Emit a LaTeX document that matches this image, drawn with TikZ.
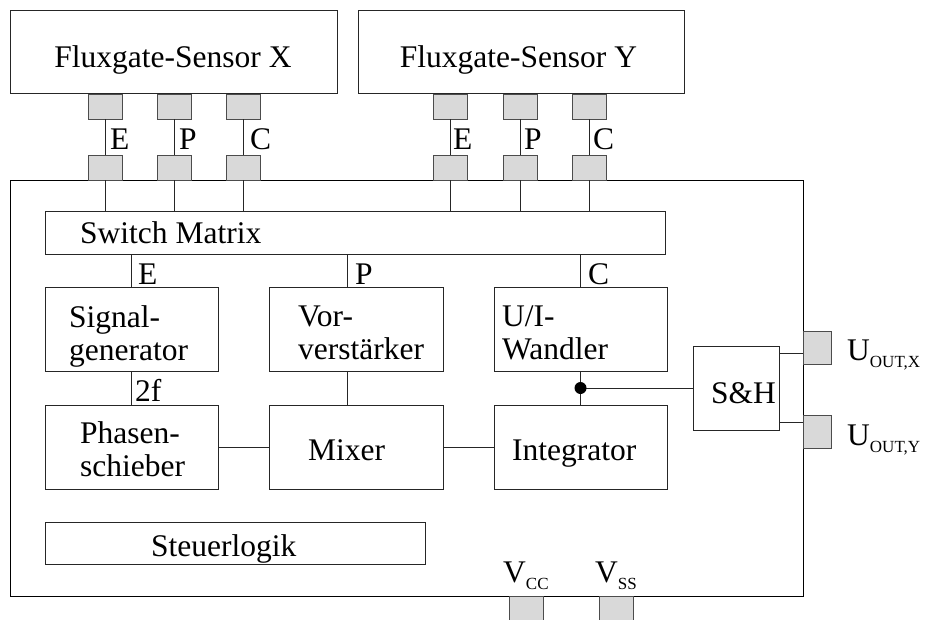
\documentclass[tikz,border=0pt]{standalone}
\usepackage{fontspec}
\setmainfont{Liberation Serif}
\newcommand{\subtxt}[1]{\raisebox{-7pt}{\fontsize{17}{17}\selectfont #1}}
\begin{document}
\begin{tikzpicture}[x=1pt,y=-1pt,
  box/.style={draw=black!85, line width=0.9pt, rectangle, inner sep=0pt},
  pad/.style={draw=black!70, fill=black!15, line width=0.9pt, rectangle, inner sep=0pt},
  txt/.style={inner sep=0pt, font=\fontsize{31.5}{33}\selectfont},
  wire/.style={line width=0.9pt, draw=black!85}]
\useasboundingbox (0,0) rectangle (927,619);

% main boxes
\node[box, minimum width=327, minimum height=83] (sx) at (173.5,51.5) {};
\node[box, minimum width=326, minimum height=83] (sy) at (521,51.5) {};
\node[box, draw=black, minimum width=793, minimum height=416] (main) at (406.5,388) {};
\node[box, minimum width=620, minimum height=43] (sm) at (355,232.5) {};
\node[box, minimum width=173, minimum height=84] (sg) at (131.5,329) {};
\node[box, minimum width=174, minimum height=84] (vv) at (356,329) {};
\node[box, minimum width=173, minimum height=84] (ui) at (580.5,329) {};
\node[box, minimum width=173, minimum height=84] (ps) at (131.5,447) {};
\node[box, minimum width=174, minimum height=84] (mx) at (356,447) {};
\node[box, minimum width=173, minimum height=84] (ig) at (580.5,447) {};
\node[box, minimum width=86, minimum height=84] (sh) at (736,388) {};
\node[box, minimum width=380, minimum height=42] (sl) at (235,543) {};

% pads sensor X
\node[pad, minimum width=34, minimum height=25] (xe1) at (105,106.5) {};
\node[pad, minimum width=34, minimum height=25] (xp1) at (174,106.5) {};
\node[pad, minimum width=34, minimum height=25] (xc1) at (243.5,106.5) {};
\node[pad, minimum width=34, minimum height=25] (xe2) at (105,167.5) {};
\node[pad, minimum width=34, minimum height=25] (xp2) at (174,167.5) {};
\node[pad, minimum width=34, minimum height=25] (xc2) at (243.5,167.5) {};
% pads sensor Y
\node[pad, minimum width=34, minimum height=25] (ye1) at (450.5,106.5) {};
\node[pad, minimum width=34, minimum height=25] (yp1) at (520,106.5) {};
\node[pad, minimum width=34, minimum height=25] (yc1) at (589.5,106.5) {};
\node[pad, minimum width=34, minimum height=25] (ye2) at (450.5,167.5) {};
\node[pad, minimum width=34, minimum height=25] (yp2) at (520,167.5) {};
\node[pad, minimum width=34, minimum height=25] (yc2) at (589.5,167.5) {};
% output pads
\node[pad, minimum width=28, minimum height=33] (pox) at (817,347.5) {};
\node[pad, minimum width=28, minimum height=33] (poy) at (817,431.5) {};
\node[pad, minimum width=34, minimum height=34] (pvc) at (526,613) {};
\node[pad, minimum width=34, minimum height=34] (pvs) at (616,613) {};

% wires sensor pads
\foreach \a/\b in {xe1/xe2,xp1/xp2,xc1/xc2,ye1/ye2,yp1/yp2,yc1/yc2}{
  \draw[wire] (\a.south) -- (\b.north);
  \draw[wire] (\b.south) -- (\b.south |- sm.north);
}
% switch matrix to blocks
\coordinate (pv) at ([xshift=78.5pt]vv.north west);
\draw[wire] (sg.north) -- (sg.north |- sm.south);
\draw[wire] (pv) -- (pv |- sm.south);
\draw[wire] (ui.north) -- (ui.north |- sm.south);
\draw[wire] (sg.south) -- (ps.north);
\draw[wire] (vv.south -| pv) -- (mx.north -| pv);
\draw[wire] (ps.east) -- (mx.west);
\draw[wire] (mx.east) -- (ig.west);
\draw[wire] (ui.south) -- (ig.north);
\coordinate (dt) at (ui.south |- sh.west);
\draw[wire] (dt) -- (sh.west);
\fill (dt) circle (6);
\draw[wire] ([yshift=-8pt]sh.north east) coordinate (a1) -- (a1 -| pox.west);
\draw[wire] ([yshift=8pt]sh.south east) coordinate (a2) -- (a2 -| poy.west);

% texts
\node[txt, anchor=base] (tsx) at (173,67) {Fluxgate-Sensor X};
\node[txt, anchor=base] (tsy) at (518.5,67) {Fluxgate-Sensor Y};
\node[txt, anchor=base west] (tsm) at (80,243) {Switch Matrix};
\node[txt, anchor=north west, align=left] (tsg) at (69,305.5) {Signal-\\generator};
\node[txt, anchor=north west, align=left] (tvv) at (298,305.5) {Vor-\\verstärker};
\node[txt, anchor=north west, align=left] (tui) at (502,305.5) {U/I-\\Wandler};
\node[txt, anchor=north west, align=left] (tps) at (80,421.5) {Phasen-\\schieber};
\node[txt, anchor=base west] (tmx) at (308,460) {Mixer};
\node[txt, anchor=base west] (tig) at (512,460) {Integrator};
\node[txt, anchor=base west] (tsh) at (711,403) {S\&H};
\node[txt, anchor=base west] (tsl) at (151,556) {Steuerlogik};

% labels
\node[txt, anchor=base west] (lxe) at (110,149) {E};
\node[txt, anchor=base west] (lxp) at (179,149) {P};
\node[txt, anchor=base west] (lxc) at (250,149) {C};
\node[txt, anchor=base west] (lye) at (453,149) {E};
\node[txt, anchor=base west] (lyp) at (524,149) {P};
\node[txt, anchor=base west] (lyc) at (593,149) {C};
\node[txt, anchor=base west] (lie) at (138,284) {E};
\node[txt, anchor=base west] (lip) at (355,284) {P};
\node[txt, anchor=base west] (lic) at (588,284) {C};
\node[txt, anchor=base west] (l2f) at (135,401) {2f};
\node[txt, anchor=base west] (lux) at (847,360) {U\subtxt{OUT,X}};
\node[txt, anchor=base west] (luy) at (847,445) {U\subtxt{OUT,Y}};
\node[txt, anchor=base west] (lvc) at (503,582) {V\subtxt{CC}};
\node[txt, anchor=base west] (lvs) at (595,582) {V\subtxt{SS}};
\end{tikzpicture}
\end{document}
